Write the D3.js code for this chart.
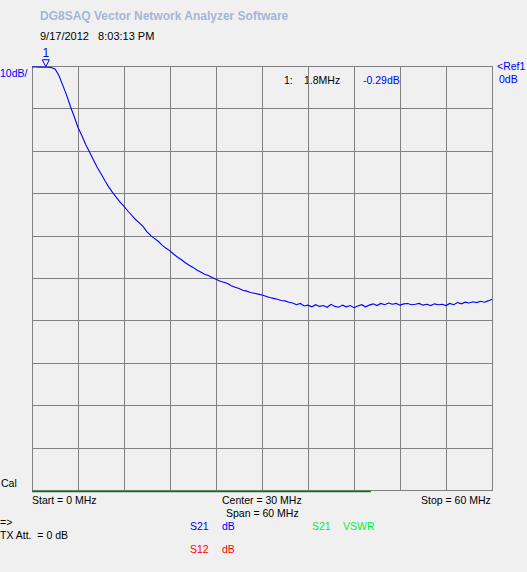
<!DOCTYPE html>
<html><head><meta charset="utf-8">
<script src="https://cdn.jsdelivr.net/npm/d3@7"></script>
<style>
html,body{margin:0;padding:0;background:#f0f0f0;}
svg{display:block;font-family:"Liberation Sans",Arial,sans-serif;}
text{white-space:pre;}
</style></head><body>
<svg id="c" width="527" height="572"></svg>
<script>
// Sweep settings (MHz)
const sweepStart = 0, sweepStop = 60, sweepStep = 0.5;
// S21 magnitude (dB), one value per sweep point
const s21dB = [
 -0.25,-0.25,-0.27,-0.28,-0.29,-0.35,-0.7,-2.2,-4.5,-6.8,
 -9.5,-11.9,-14.5,-16.4,-18.5,-20.3,-22.1,-23.9,-25.4,-27.0,
 -28.5,-29.8,-31.0,-32.1,-33.1,-34.2,-35.2,-36.2,-37.0,-37.9,
 -39.1,-40.0,-40.7,-41.4,-42.3,-43.0,-43.6,-44.4,-45.1,-45.7,
 -46.4,-47.0,-47.5,-48.1,-48.6,-49.1,-49.4,-49.9,-50.3,-50.7,
 -51.0,-51.3,-51.8,-52.2,-52.5,-52.9,-53.1,-53.4,-53.6,-53.8,
 -54.0,-54.3,-54.6,-54.8,-55.0,-55.3,-55.4,-55.7,-55.9,-56.3,
 -56.0,-56.6,-56.4,-56.8,-56.3,-56.7,-56.5,-56.9,-56.2,-56.7,
 -56.9,-56.4,-56.8,-56.5,-57.0,-56.6,-56.3,-56.8,-56.4,-56.1,
 -56.5,-56.0,-56.3,-55.9,-56.2,-56.0,-56.4,-56.1,-56.0,-56.3,
 -56.2,-56.0,-56.4,-56.2,-56.5,-56.1,-56.3,-56.2,-56.5,-56.0,
 -56.3,-55.8,-56.1,-55.7,-55.9,-55.6,-55.8,-55.5,-55.7,-55.4,
 -55.0
];
const refLevel = 0, dbPerDiv = 10, divisions = 10;
const markerFreq = 1.8, markerValue = -0.29;
const xTicks = d3.range(0, 61, 6);
const yTicks = d3.range(0, -101, -10);

const svg = d3.select("#c");
const x = d3.scaleLinear().domain([sweepStart, sweepStop]).range([32, 492]);
const y = d3.scaleLinear().domain([refLevel, refLevel - dbPerDiv*divisions]).range([66, 490]);

const data = s21dB.map((v,i)=>({f: sweepStart + i*sweepStep, v}));

// texts
const T = (tx, ty, s, col, opts={}) => {
  const t = svg.append("text").attr("x", tx).attr("y", ty).attr("fill", col||"#000")
    .attr("font-size", opts.size||10.5).text(s);
  if (opts.bold) t.attr("font-weight","bold");
  if (opts.anchor) t.attr("text-anchor", opts.anchor);
  return t;
};
T(40, 20, "DG8SAQ Vector Network Analyzer Software", "#a0b8d8", {bold:true, size:12});
T(40, 40, "9/17/2012   8:03:13 PM", "#000", {size:11});
T(0, 77, "10dB/", "#0000ff");
T(497, 70, "<Ref1", "#0000ff");
T(499, 83, "0dB", "#0000ff");
T(284, 84, "1:", "#000");
T(304, 84, "1.8MHz", "#000");
T(363, 84, "-0.29dB", "#0000ff");
T(1, 487, "Cal", "#000");
T(32, 504, "Start = 0 MHz", "#000");
T(222, 504, "Center = 30 MHz", "#000");
T(226, 517, "Span = 60 MHz", "#000");
T(421, 504, "Stop = 60 MHz", "#000");
T(0, 526, "=>", "#000");
T(0, 539, "TX Att.  = 0 dB", "#000");
T(190, 530, "S21", "#0000ff");
T(222, 530, "dB", "#0000ff");
T(312, 530, "S21", "#00ee44");
T(343, 530, "VSWR", "#00ee44");
T(190, 553, "S12", "#ff0000");
T(222, 553, "dB", "#ff0000");

// grid
const g = svg.append("g").attr("stroke","#808080").attr("stroke-width",1).attr("shape-rendering","crispEdges");
g.selectAll("line.v").data(xTicks).join("line")
  .attr("x1", d=>Math.round(x(d))+0.5).attr("x2", d=>Math.round(x(d))+0.5)
  .attr("y1", y(0)).attr("y2", y(-100)+1);
g.selectAll("line.h").data(yTicks).join("line")
  .attr("y1", d=>Math.round(y(d))+0.5).attr("y2", d=>Math.round(y(d))+0.5)
  .attr("x1", x(0)).attr("x2", x(60)+1);

// sweep progress bar
svg.append("line").attr("x1", 32).attr("x2", x(44.2)).attr("y1", 491.5).attr("y2", 491.5)
  .attr("stroke","#008000").attr("stroke-width",1.5);

// trace
const line = d3.line().x(d=>x(d.f)).y(d=>y(d.v));
svg.append("path").datum(data).attr("d", line).attr("fill","none")
  .attr("stroke","#0000ff").attr("stroke-width",1.1);

// marker
const mx = x(markerFreq), my = y(markerValue) - 0.5;
svg.append("path").attr("d", `M${mx},${my} L${mx-3.5},${my-7} L${mx+3.5},${my-7} Z`)
  .attr("fill","none").attr("stroke","#0000ff").attr("stroke-width",1);
T(mx, my-10, "1", "#0000ff", {anchor:"middle", size:12});
</script>
</body></html>
